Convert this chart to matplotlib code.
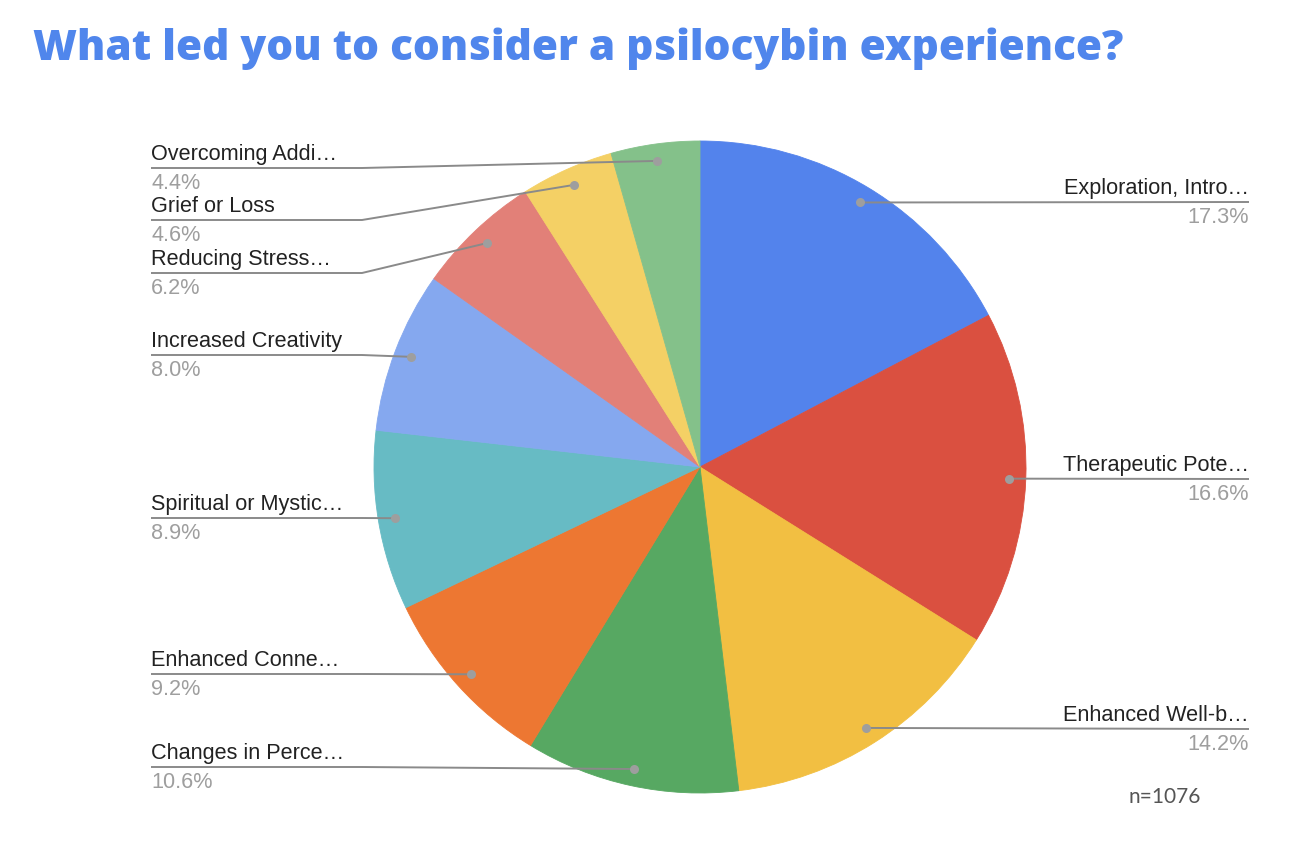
import numpy as np
import matplotlib
matplotlib.use("Agg")
import matplotlib.pyplot as plt

labels = ["Exploration, Intro…", "Therapeutic Pote…", "Enhanced Well-b…",
          "Changes in Perce…", "Enhanced Conne…", "Spiritual or Mystic…",
          "Increased Creativity", "Reducing Stress…", "Grief or Loss",
          "Overcoming Addi…"]
shares = [17.3, 16.6, 14.2, 10.6, 9.2, 8.9, 8.0, 6.2, 4.6, 4.4]
colors = ["#5383ec", "#da5040", "#f2bf42", "#57a862", "#ed7732",
          "#67bbc4", "#85a8ef", "#e28078", "#f4d065", "#84c18a"]

# label layout (pixel rows of the underline, side of the chart)
label_y = [202, 479, 729, 767, 674, 518, 355, 273, 220, 168]
label_side = ["r", "r", "r", "l", "l", "l", "l", "l", "l", "l"]

W, H = 1290, 852
fig = plt.figure(figsize=(W / 100, H / 100), dpi=100)
ax = fig.add_axes([0, 0, 1, 1])

cx, cy, R = 700, H - 467, 326
wedges, _ = ax.pie(shares, colors=colors, startangle=90, counterclock=False,
                   radius=R, center=(cx, cy))
for w in wedges:
    w.set_edgecolor(w.get_facecolor())
    w.set_linewidth(0.6)
ax.set_xlim(0, W)
ax.set_ylim(0, H)
ax.set_aspect("equal")
ax.axis("off")

line_c = "#8a8a8a"
xl, xr, kink = 151, 1249, 362
for w, name, share, uy, side in zip(wedges, labels, shares, label_y, label_side):
    a = np.deg2rad((w.theta1 + w.theta2) / 2)
    dx, dy = cx + 0.948 * R * np.cos(a), cy + 0.948 * R * np.sin(a)
    y = H - uy
    if side == "l":
        ax.plot([xl, kink, dx], [y, y, dy], color=line_c, lw=1.4, solid_capstyle="butt")
        ha, tx = "left", xl
    else:
        ax.plot([dx, xr], [dy, y], color=line_c, lw=1.4, solid_capstyle="butt")
        ha, tx = "right", xr
    ax.plot(dx, dy, "o", color="#9e9e9e", ms=6.5, mec="none")
    ax.text(tx, y + 3, name, ha=ha, va="bottom", fontsize=15.6,
            family="Liberation Sans", color="#222222")
    ax.text(tx, y - 5, f"{share:.1f}%", ha=ha, va="top", fontsize=15.6,
            family="Liberation Sans", color="#9e9e9e")

fig.text(33 / W, 1 - 60 / H, "What led you to consider a psilocybin experience?",
         ha="left", va="baseline", fontsize=30.5, fontweight="heavy",
         family="Open Sans", color="#5086ec")
fig.text(1165 / W, 1 - 797 / H, "n=1076", ha="center", va="center",
         fontsize=15, family="Lato", color="#555555")

plt.savefig("out.png", dpi=100)
